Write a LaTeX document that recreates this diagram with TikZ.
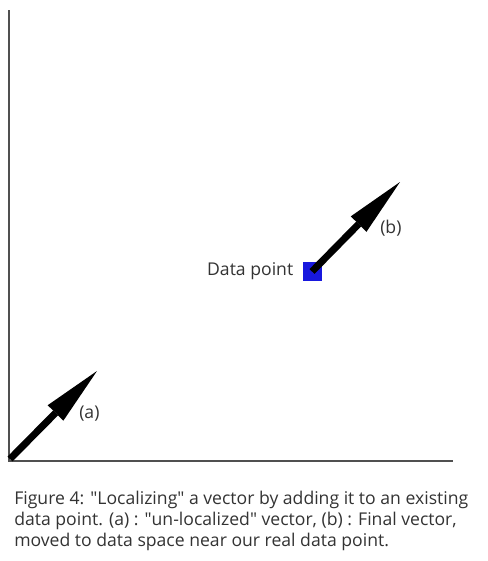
\documentclass[tikz,border=0pt]{standalone}
\usepackage{fontspec}
\setmainfont{Open Sans}
\usetikzlibrary{arrows.meta}
\definecolor{txt}{HTML}{333333}
\definecolor{axisgray}{HTML}{505050}
\definecolor{dpblue}{RGB}{24,24,222}
\newcommand{\qt}{\textquotedbl}
\tikzset{
  axisline/.style={draw=axisgray, line width=1.5pt},
  vec/.style={draw=black, line width=5.25pt,
    -{Triangle[length=44.25pt, width=16.5pt, line width=0pt]}},
  lbl/.style={text=txt, inner sep=0pt, font=\fontsize{13.2}{15.75}\selectfont},
  datapt/.style={rectangle, fill=dpblue, minimum size=14.25pt, inner sep=0pt}
}
\begin{document}
\begin{tikzpicture}[x=0.75pt, y=-0.75pt]
\useasboundingbox (0,0) rectangle (488,561);
\fill[white] (0,0) rectangle (488,561);
% axes
\coordinate (ytop) at (9,10);
\coordinate (orig) at (9,461);
\coordinate (xend) at (453,461);
\draw[axisline] (ytop) -- (orig) -- (xend);
% vector (a)
\coordinate (a0) at (10,459);
\coordinate (a1) at (97,371);
\draw[vec] (a0) -- (a1);
\node[lbl, anchor=base west] (la) at (79,418) {(a)};
% data point and vector (b)
\node[datapt] (dp) at (312,271.5) {};
\coordinate (b1) at (400,182);
\draw[vec] (dp.center) -- (b1);
\node[lbl, anchor=base west] (lb) at (380,233) {(b)};
\node[lbl, anchor=base east] (ldp) at (293.5,275.5) {Data point};
% caption
\node[lbl, anchor=north west, align=left] (cap) at (14,491) {Figure 4: \qt Localizing\qt{} a vector by adding it to an existing\\data point. (a) : \qt un-localized\qt{} vector, (b) : Final vector,\\moved to data space near our real data point.};
\end{tikzpicture}
\end{document}
